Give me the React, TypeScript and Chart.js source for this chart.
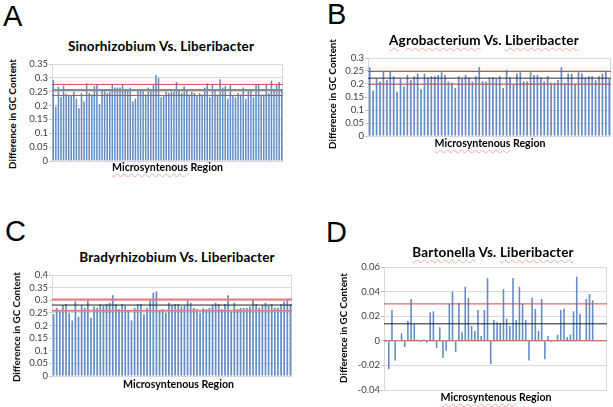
import React, { useEffect, useRef } from 'react';
import { Chart, registerables } from 'chart.js';

Chart.register(...registerables);

// ---------- data ----------
const sinorhizobiumDiff = [
  0.293, 0.197, 0.267, 0.231, 0.272, 0.243, 0.235, 0.235, 0.25, 0.225, 0.19, 0.245, 0.215, 0.28, 0.245,
  0.24, 0.27, 0.275, 0.205, 0.26, 0.255, 0.245, 0.25, 0.275, 0.265, 0.265, 0.265, 0.275, 0.26, 0.255,
  0.265, 0.215, 0.225, 0.26, 0.26, 0.26, 0.24, 0.265, 0.255, 0.275, 0.31, 0.3, 0.23, 0.235, 0.25,
  0.245, 0.25, 0.25, 0.285, 0.26, 0.245, 0.27, 0.255, 0.24, 0.25, 0.245, 0.235, 0.245, 0.24, 0.265,
  0.28, 0.23, 0.275, 0.26, 0.24, 0.295, 0.265, 0.27, 0.225, 0.275, 0.235, 0.23, 0.245, 0.24, 0.265,
  0.225, 0.255, 0.255, 0.23, 0.275, 0.275, 0.24, 0.24, 0.275, 0.245, 0.29, 0.255, 0.275, 0.285, 0.26,
];
const agrobacteriumDiff = [
  0.265, 0.175, 0.22, 0.21, 0.25, 0.215, 0.25, 0.23, 0.17, 0.22, 0.19, 0.235, 0.215, 0.23, 0.24,
  0.18, 0.24, 0.225, 0.23, 0.23, 0.235, 0.245, 0.235, 0.21, 0.205, 0.185, 0.23, 0.22, 0.235, 0.225,
  0.21, 0.23, 0.265, 0.21, 0.21, 0.225, 0.225, 0.22, 0.23, 0.185, 0.255, 0.225, 0.2, 0.24, 0.245,
  0.21, 0.21, 0.245, 0.235, 0.235, 0.225, 0.21, 0.23, 0.205, 0.205, 0.215, 0.265, 0.205, 0.24, 0.24,
  0.2, 0.245, 0.24, 0.225, 0.23, 0.23, 0.215, 0.23, 0.24, 0.25, 0.22,
];
const bradyrhizobiumDiff = [
  0.245, 0.27, 0.255, 0.28, 0.285, 0.25, 0.22, 0.295, 0.235, 0.28, 0.27, 0.3, 0.23, 0.275, 0.27,
  0.285, 0.28, 0.285, 0.29, 0.32, 0.285, 0.265, 0.285, 0.28, 0.26, 0.22, 0.27, 0.285, 0.285, 0.245,
  0.27, 0.3, 0.33, 0.335, 0.26, 0.265, 0.25, 0.29, 0.28, 0.285, 0.285, 0.275, 0.28, 0.3, 0.29,
  0.27, 0.265, 0.25, 0.27, 0.265, 0.27, 0.28, 0.29, 0.285, 0.265, 0.285, 0.32, 0.255, 0.29, 0.265,
  0.27, 0.27, 0.27, 0.275, 0.305, 0.285, 0.27, 0.28, 0.29, 0.28, 0.285, 0.27, 0.27, 0.285, 0.295,
  0.305, 0.285,
];
const bartonellaDiff = [
  -0.001, -0.023, 0.025, -0.016, 0, 0.006, -0.005, 0.016, 0.034, 0.014, 0.001, -0.001, 0.001, -0.0015,
  0.023, 0.024, -0.006, 0.011, -0.014, -0.008, 0.03, 0.04, -0.009, 0.031, 0.007, 0.044, 0.035, 0.012,
  0.008, 0.025, 0.004, 0.025, 0.051, -0.019, 0.017, 0.015, 0.014, 0.042, 0.018, 0.012, 0.051, 0.017,
  0.044, 0.03, 0.017, -0.016, 0.035, 0.026, 0.008, 0.034, -0.015, 0.004, -0.001, 0, 0.005, 0.025,
  0.026, 0.003, 0.005, 0.024, 0.052, 0.022, 0, 0.034, 0.038, 0.033, 0, 0, 0, 0,
];

// reference lines: [upper (mean+sd), mean, lower (mean-sd)]
const sinorhizobiumRefs = [0.2765, 0.2565, 0.2365];
const agrobacteriumRefs = [0.248, 0.2225, 0.199];
const bradyrhizobiumRefs = [0.303, 0.281, 0.258];
const bartonellaRefs = [0.03, 0.0138, 0];

// y-axis tick values
const sinorhizobiumTicks = [0, 0.05, 0.1, 0.15, 0.2, 0.25, 0.3, 0.35];
const agrobacteriumTicks = [0, 0.05, 0.1, 0.15, 0.2, 0.25, 0.3];
const bradyrhizobiumTicks = [0, 0.05, 0.1, 0.15, 0.2, 0.25, 0.3, 0.35, 0.4];
const bartonellaTicks = [-0.04, -0.02, 0, 0.02, 0.04, 0.06];

const panelLetters = ['A', 'B', 'C', 'D'];
const panelTitles = [
  'Sinorhizobium Vs. Liberibacter',
  'Agrobacterium Vs. Liberibacter',
  'Bradyrhizobium Vs. Liberibacter',
  'Bartonella Vs. Liberibacter',
];
const yAxisTitle = 'Difference in GC Content';
const xAxisTitle = 'Microsyntenous Region';

// ---------- chart ----------
const overlayPlugin = {
  id: 'overlay',
  beforeDatasetsDraw(chart: any) {
    const { ctx, chartArea: a } = chart;
    ctx.save();
    ctx.strokeStyle = '#d9d9d9';
    ctx.lineWidth = 1;
    ctx.strokeRect(Math.round(a.left) + 0.5, Math.round(a.top) + 0.5, Math.round(a.right - a.left) - 1, Math.round(a.bottom - a.top));
    ctx.restore();
  },
  afterDatasetsDraw(chart: any, _args: any, opts: any) {
    const { ctx, chartArea: a, scales } = chart;
    ctx.save();
    (opts.lines || []).forEach((l: any) => {
      const y = scales.y.getPixelForValue(l.value);
      ctx.strokeStyle = l.color;
      ctx.lineWidth = l.width;
      ctx.beginPath();
      ctx.moveTo(a.left, y);
      ctx.lineTo(a.right, y);
      ctx.stroke();
    });
    ctx.restore();
  },
};

type PanelProps = {
  values: number[];
  ticks: number[];
  refs: number[];
  plot: { l: number; t: number; r: number; b: number };
  yW: number;
  barPct: number;
  redColor: string;
  redWidth: number;
  meanColor: string;
  meanWidth: number;
};

function BarPanel(p: PanelProps) {
  const ref = useRef<HTMLCanvasElement>(null);
  const padTop = 8;
  const padBottom = 8;
  const padRight = 2;
  const left = p.plot.l - p.yW;
  const top = p.plot.t - padTop;
  const width = Math.round(p.plot.r - p.plot.l + p.yW + padRight);
  const height = Math.round(p.plot.b - p.plot.t + padTop + padBottom);

  useEffect(() => {
    if (!ref.current) return;
    const chart = new Chart(ref.current, {
      type: 'bar',
      data: {
        labels: p.values.map((_, i) => String(i + 1)),
        datasets: [
          {
            data: p.values,
            backgroundColor: '#648dc6',
            borderWidth: 0,
            barPercentage: p.barPct,
            categoryPercentage: 1,
          },
        ],
      },
      options: {
        responsive: false,
        animation: false,
        events: [],
        layout: { padding: { top: padTop, bottom: padBottom, right: padRight, left: 0 } },
        plugins: {
          legend: { display: false },
          tooltip: { enabled: false },
          title: { display: false },
          overlay: {
            lines: [
              { value: p.refs[0], color: p.redColor, width: p.redWidth },
              { value: p.refs[2], color: p.redColor, width: p.redWidth },
              { value: p.refs[1], color: p.meanColor, width: p.meanWidth },
            ],
          },
        } as any,
        scales: {
          x: { display: false, offset: true, grid: { display: false } },
          y: {
            min: p.ticks[0],
            max: p.ticks[p.ticks.length - 1],
            afterBuildTicks: (scale: any) => {
              scale.ticks = p.ticks.map((v) => ({ value: v }));
            },
            afterFit: (scale: any) => {
              scale.width = p.yW;
            },
            ticks: {
              autoSkip: false,
              color: '#404040',
              padding: 1,
              font: { family: 'Lato', size: 9.5 },
              callback: (v: any) => String(Number(Number(v).toFixed(4))),
            },
            grid: { color: '#d9d9d9', tickLength: 3, tickColor: '#c8c8c8', lineWidth: 1 },
            border: { display: true, color: '#c8c8c8' },
          },
        },
      },
      plugins: [overlayPlugin],
    });
    return () => chart.destroy();
  }, []);

  return (
    <canvas
      ref={ref}
      width={width}
      height={height}
      style={{ position: 'absolute', left, top, width, height }}
    />
  );
}

const squiggleStyle = {
  textDecoration: 'underline wavy #f0a8a8',
  textDecorationThickness: '1px',
  textUnderlineOffset: '2px',
};

// text placed by baseline (Lato: baseline = top + 0.887*size with lineHeight=size)
function Label(props: { text: string; cx: number; baseline: number; size: number; bold?: boolean; spacing?: number; squiggle?: string[] }) {
  const { text, cx, baseline, size, bold } = props;
  const parts = text.split(' ');
  return (
    <div
      style={{
        position: 'absolute',
        left: cx,
        top: baseline - 0.887 * size,
        transform: 'translateX(-50%)',
        fontFamily: 'Lato',
        fontWeight: bold ? 700 : 400,
        fontSize: size,
        letterSpacing: props.spacing ? `${props.spacing}px` : undefined,
        lineHeight: `${size}px`,
        whiteSpace: 'nowrap',
        color: '#000',
      }}
    >
      {parts.map((w, i) => (
        <span key={i}>
          <span style={props.squiggle && props.squiggle.includes(w) ? squiggleStyle : undefined}>{w}</span>
          {i < parts.length - 1 ? ' ' : ''}
        </span>
      ))}
    </div>
  );
}

function YTitle(props: { cx: number; cy: number; size: number }) {
  return (
    <div
      style={{
        position: 'absolute',
        left: props.cx,
        top: props.cy,
        transform: 'translate(-50%, -50%) rotate(-90deg)',
        fontFamily: 'Lato',
        fontWeight: 700,
        fontSize: props.size,
        lineHeight: `${props.size}px`,
        whiteSpace: 'nowrap',
        color: '#000',
      }}
    >
      {yAxisTitle}
    </div>
  );
}

function Letter(props: { text: string; x: number; baseline: number }) {
  const size = 29;
  return (
    <div
      style={{
        position: 'absolute',
        left: props.x,
        top: props.baseline - 0.8465 * size,
        fontFamily: '"Liberation Sans", Arial, sans-serif',
        fontSize: size,
        lineHeight: `${size}px`,
        color: '#000',
      }}
    >
      {props.text}
    </div>
  );
}

export default function App() {
  const titleSize = 13.5;
  const titleSpacing = 0.15;
  const xTitleSize = 10.6;
  const yTitleSize = 9.8;
  return (
    <div style={{ position: 'fixed', left: 0, top: 0, width: 613, height: 407, background: '#fff', overflow: 'hidden' }}>
      <BarPanel
        values={sinorhizobiumDiff}
        ticks={sinorhizobiumTicks}
        refs={sinorhizobiumRefs}
        plot={{ l: 52, t: 64, r: 283, b: 161 }}
        yW={30}
        barPct={0.6}
        redColor="#d04848"
        redWidth={1}
        meanColor="#8a8a8a"
        meanWidth={2}
      />
      <BarPanel
        values={agrobacteriumDiff}
        ticks={agrobacteriumTicks}
        refs={agrobacteriumRefs}
        plot={{ l: 368, t: 58, r: 611, b: 136 }}
        yW={30}
        barPct={0.5}
        redColor="#d04848"
        redWidth={1}
        meanColor="#303030"
        meanWidth={1}
      />
      <BarPanel
        values={bradyrhizobiumDiff}
        ticks={bradyrhizobiumTicks}
        refs={bradyrhizobiumRefs}
        plot={{ l: 52, t: 275, r: 292, b: 376 }}
        yW={30}
        barPct={0.55}
        redColor="#ec7c7c"
        redWidth={2}
        meanColor="#202020"
        meanWidth={1}
      />
      <BarPanel
        values={bartonellaDiff}
        ticks={bartonellaTicks}
        refs={bartonellaRefs}
        plot={{ l: 384, t: 267, r: 607, b: 390 }}
        yW={32}
        barPct={0.5}
        redColor="#d04848"
        redWidth={1}
        meanColor="#202020"
        meanWidth={1}
      />

      <Letter text={panelLetters[0]} x={3} baseline={27} />
      <Letter text={panelLetters[1]} x={327} baseline={25} />
      <Letter text={panelLetters[2]} x={5} baseline={242} />
      <Letter text={panelLetters[3]} x={326} baseline={243} />

      <Label text={panelTitles[0]} cx={161} baseline={51.5} size={titleSize} spacing={titleSpacing} bold />
      <Label text={panelTitles[1]} cx={484} baseline={45.5} size={titleSize} spacing={titleSpacing} bold squiggle={['Agrobacterium', 'Liberibacter']} />
      <Label text={panelTitles[2]} cx={177} baseline={263} size={titleSize} spacing={titleSpacing} bold />
      <Label text={panelTitles[3]} cx={493} baseline={258} size={titleSize} spacing={titleSpacing} bold squiggle={['Bartonella', 'Liberibacter']} />

      <Label text={xAxisTitle} cx={167.5} baseline={171} size={xTitleSize} bold squiggle={['Microsyntenous']} />
      <Label text={xAxisTitle} cx={490} baseline={147.5} size={xTitleSize} bold squiggle={['Microsyntenous']} />
      <Label text={xAxisTitle} cx={178.5} baseline={388.5} size={xTitleSize} bold />
      <Label text={xAxisTitle} cx={496} baseline={401} size={xTitleSize} bold squiggle={['Microsyntenous']} />

      <YTitle cx={12.5} cy={114} size={yTitleSize} />
      <YTitle cx={333} cy={94} size={yTitleSize} />
      <YTitle cx={17} cy={327} size={yTitleSize} />
      <YTitle cx={344} cy={328} size={yTitleSize} />
    </div>
  );
}
